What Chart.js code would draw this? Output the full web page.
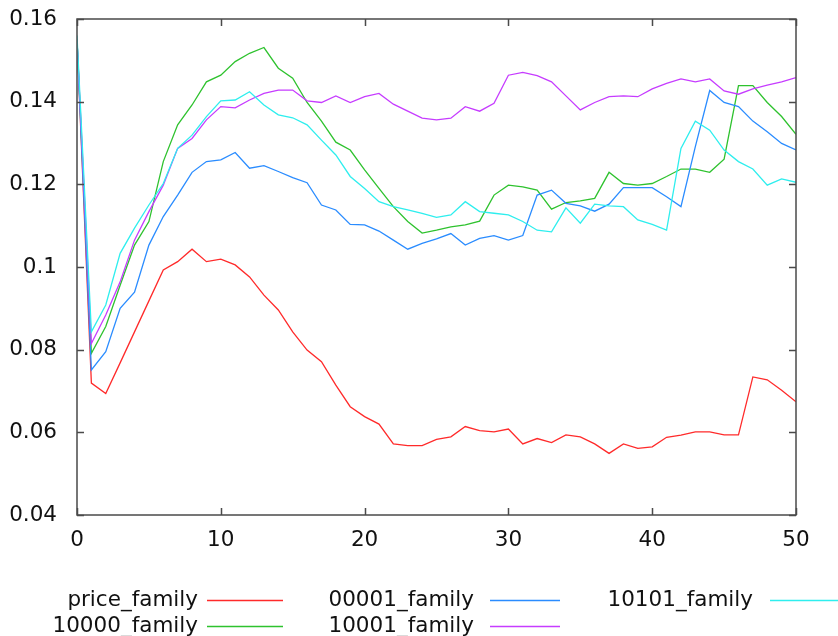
<!DOCTYPE html>
<html>
<head>
<meta charset="utf-8">
<script src="https://cdn.jsdelivr.net/npm/chart.js@4.4.0/dist/chart.umd.min.js"></script>
<style>
  html, body { margin: 0; padding: 0; background: #fff; }
  #wrap { width: 838px; height: 636px; }
</style>
</head>
<body>
<div id="wrap"><canvas id="chart" width="838" height="636"></canvas></div>
<script>
// x positions (step index)
const xValues = [0, 1, 2, 3, 4, 5, 6, 7, 8, 9, 10, 11, 12, 13, 14, 15, 16, 17, 18, 19, 20,
  21, 22, 23, 24, 25, 26, 27, 28, 29, 30, 31, 32, 33, 34, 35, 36, 37, 38, 39, 40,
  41, 42, 43, 44, 45, 46, 47, 48, 49, 50];

const priceFamily = [0.155, 0.0719, 0.0694, 0.0768, 0.0843, 0.0918, 0.0993, 0.1013, 0.1043, 0.1013, 0.1019,
  0.1005, 0.0976, 0.0932, 0.0896, 0.0843, 0.0799, 0.0771, 0.0714, 0.0662, 0.0638,
  0.0620, 0.0572, 0.0568, 0.0568, 0.0583, 0.0589, 0.0614, 0.0604, 0.0601, 0.0608,
  0.0572, 0.0585, 0.0575, 0.0594, 0.0589, 0.0572, 0.0549, 0.0572, 0.0561, 0.0565,
  0.0588, 0.0593, 0.0601, 0.0601, 0.0594, 0.0594, 0.0734, 0.0727, 0.0702, 0.0674];

const family10000 = [0.155, 0.0791, 0.0856, 0.0956, 0.1053, 0.1110, 0.1255, 0.1344, 0.1392, 0.1448, 0.1464,
  0.1497, 0.1517, 0.1531, 0.1481, 0.1457, 0.1398, 0.1353, 0.1302, 0.1283, 0.1235,
  0.1190, 0.1146, 0.1110, 0.1082, 0.1089, 0.1097, 0.1102, 0.1111, 0.1174, 0.1198,
  0.1194, 0.1186, 0.1140, 0.1156, 0.1160, 0.1166, 0.1229, 0.1202, 0.1198, 0.1202,
  0.1219, 0.1237, 0.1237, 0.1229, 0.1261, 0.1439, 0.1439, 0.1398, 0.1364, 0.1321];

const family00001 = [0.155, 0.0751, 0.0795, 0.0900, 0.0939, 0.1053, 0.1122, 0.1174, 0.1229, 0.1255, 0.1259,
  0.1277, 0.1239, 0.1245, 0.1231, 0.1216, 0.1204, 0.1150, 0.1138, 0.1103, 0.1102,
  0.1087, 0.1065, 0.1043, 0.1057, 0.1068, 0.1081, 0.1053, 0.1069, 0.1076, 0.1065,
  0.1076, 0.1174, 0.1186, 0.1154, 0.1148, 0.1135, 0.1152, 0.1192, 0.1192, 0.1192,
  0.1170, 0.1146, 0.1291, 0.1427, 0.1398, 0.1388, 0.1353, 0.1327, 0.1299, 0.1283];

const family10001 = [0.155, 0.0815, 0.0884, 0.0964, 0.1065, 0.1134, 0.1198, 0.1287, 0.1311, 0.1356, 0.1388,
  0.1385, 0.1404, 0.1420, 0.1428, 0.1428, 0.1402, 0.1398, 0.1414, 0.1398, 0.1412,
  0.1420, 0.1394, 0.1377, 0.1360, 0.1356, 0.1360, 0.1388, 0.1377, 0.1396, 0.1464,
  0.1471, 0.1463, 0.1448, 0.1414, 0.1380, 0.1398, 0.1412, 0.1414, 0.1412, 0.1431,
  0.1444, 0.1455, 0.1448, 0.1455, 0.1426, 0.1418, 0.1431, 0.1440, 0.1448, 0.1458];

const family10101 = [0.156, 0.0843, 0.0908, 0.1033, 0.1094, 0.1150, 0.1202, 0.1287, 0.1319, 0.1364, 0.1402,
  0.1404, 0.1424, 0.1392, 0.1368, 0.1361, 0.1344, 0.1307, 0.1271, 0.1219, 0.1190,
  0.1158, 0.1146, 0.1138, 0.1130, 0.1120, 0.1126, 0.1158, 0.1134, 0.1130, 0.1126,
  0.1110, 0.1089, 0.1085, 0.1143, 0.1106, 0.1152, 0.1148, 0.1146, 0.1114, 0.1103,
  0.1089, 0.1287, 0.1353, 0.1331, 0.1283, 0.1255, 0.1237, 0.1198, 0.1213, 0.1205];

const seriesLabels = ["price_family", "10000_family", "00001_family", "10001_family", "10101_family"];
const seriesValues = [priceFamily, family10000, family00001, family10001, family10101];
const seriesColors = ["#ff2a2a", "#2ec22e", "#2a8cff", "#c63cff", "#2eeeee"];

const yTicks = [0.04, 0.06, 0.08, 0.1, 0.12, 0.14, 0.16];
const xTicks = [0, 10, 20, 30, 40, 50];

const FONT = "DejaVu Sans";

// gnuplot style frame with inward ticks on all four sides
const framePlugin = {
  id: 'frame',
  afterDraw(chart) {
    const { ctx, chartArea: a, scales } = chart;
    ctx.save();
    ctx.strokeStyle = '#4a4a4a';
    ctx.lineWidth = 1.5;
    ctx.strokeRect(a.left, a.top, a.right - a.left, a.bottom - a.top);
    ctx.beginPath();
    const len = 7;
    xTicks.forEach(v => {
      const x = Math.round(scales.x.getPixelForValue(v)) + 0.5;
      ctx.moveTo(x, a.bottom); ctx.lineTo(x, a.bottom - len);
      ctx.moveTo(x, a.top); ctx.lineTo(x, a.top + len);
    });
    yTicks.forEach(v => {
      const y = Math.round(scales.y.getPixelForValue(v)) + 0.5;
      ctx.moveTo(a.left, y); ctx.lineTo(a.left + len, y);
      ctx.moveTo(a.right, y); ctx.lineTo(a.right - len, y);
    });
    ctx.stroke();
    ctx.restore();
  }
};

// legend below the plot: text right aligned, then a short line sample
const keyPlugin = {
  id: 'key',
  afterDraw(chart) {
    const ctx = chart.ctx;
    const textRight = [198, 474, 753];
    const lineFrom = [207, 490, 770];
    const lineTo = [283, 560, 838];
    const rowY = [600, 626];
    ctx.save();
    ctx.font = '21.5px "' + FONT + '"';
    ctx.textAlign = 'right';
    ctx.textBaseline = 'middle';
    chart.data.datasets.forEach((ds, i) => {
      const col = Math.floor(i / 2), row = i % 2;
      ctx.fillStyle = '#111';
      ctx.fillText(ds.label, textRight[col], rowY[row]);
      ctx.strokeStyle = ds.borderColor;
      ctx.lineWidth = 1.5;
      ctx.beginPath();
      ctx.moveTo(lineFrom[col], rowY[row] + 0.5);
      ctx.lineTo(lineTo[col], rowY[row] + 0.5);
      ctx.stroke();
    });
    ctx.restore();
  }
};

const ctx = document.getElementById('chart').getContext('2d');
new Chart(ctx, {
  type: 'line',
  data: {
    datasets: seriesLabels.map((label, i) => ({
      label: label,
      data: xValues.map((x, j) => ({ x: x, y: seriesValues[i][j] })),
      borderColor: seriesColors[i],
      backgroundColor: seriesColors[i],
      borderWidth: 1.3,
      pointRadius: 0,
      tension: 0,
      fill: false,
      order: seriesLabels.length - i
    }))
  },
  options: {
    responsive: false,
    animation: false,
    devicePixelRatio: 1,
    layout: { padding: { top: 19, right: 42, bottom: 81, left: 0 } },
    plugins: {
      legend: { display: false },
      tooltip: { enabled: false }
    },
    scales: {
      x: {
        type: 'linear',
        min: 0,
        max: 50,
        grid: { display: false, drawTicks: false },
        border: { display: false },
        afterBuildTicks: scale => { scale.ticks = xTicks.map(v => ({ value: v })); },
        afterFit: scale => {
          scale.height = 40;
          scale.paddingLeft = 0;
          scale.paddingRight = 0;
        },
        ticks: {
          color: '#111',
          padding: 13,
          maxRotation: 0,
          font: { family: FONT, size: 21.5 }
        }
      },
      y: {
        min: 0.04,
        max: 0.16,
        grid: { display: false, drawTicks: false },
        border: { display: false },
        afterBuildTicks: scale => { scale.ticks = yTicks.map(v => ({ value: v })); },
        afterFit: scale => {
          scale.width = 77;
          scale.paddingTop = 0;
          scale.paddingBottom = 0;
        },
        ticks: {
          color: '#111',
          padding: 20,
          font: { family: FONT, size: 21.5 },
          callback: v => String(+v.toFixed(2))
        }
      }
    }
  },
  plugins: [framePlugin, keyPlugin]
});
</script>
</body>
</html>
